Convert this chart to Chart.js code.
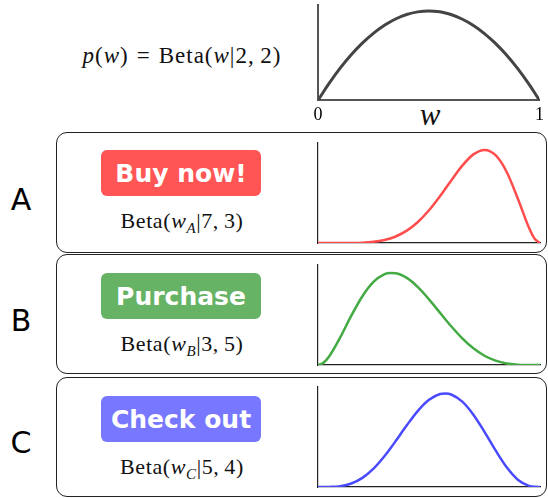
<!DOCTYPE html>
<html>
<head>
<meta charset="utf-8">
<script src="https://cdn.jsdelivr.net/npm/chart.js@4"></script>
<style>
  body { margin: 0; width: 548px; height: 498px; background: #fff; position: relative; overflow: hidden; }
  .abs { position: absolute; }
  .box { position: absolute; left: 56px; width: 491px; border: 1.5px solid #222; border-radius: 11px; box-sizing: border-box; }
  .btn { position: absolute; left: 101px; width: 160px; height: 46px; border-radius: 6px; color: #fff;
         font: bold 25px "DejaVu Sans", sans-serif; display: flex; align-items: center; justify-content: center; }
  .math { position: absolute; font-family: "Liberation Serif", serif; font-size: 22px; letter-spacing: 0.6px; color: #111; white-space: nowrap; text-align: center; }
  .math i { font-style: italic; }
  .math .eq { margin: 0 8px; }
  .letter { position: absolute; left: 0; width: 42px; text-align: center; font: 30px "DejaVu Sans", sans-serif; color: #000; }
  canvas { position: absolute; }
</style>
</head>
<body>
<div class="math" style="left:57px; top:43px; width:250px; font-size:23px; letter-spacing:1px;"><i>p</i>(<i>w</i>)<span class="eq">=</span>Beta(<i>w</i>|2,&thinsp;2)</div>
<div class="abs" style="left:410px; top:97px; width:40px; text-align:center; font:italic 31px 'Liberation Serif', serif; color:#111;">w</div>

<div class="box" style="top:132px; height:121px;"></div>
<div class="box" style="top:254px; height:120px;"></div>
<div class="box" style="top:377px; height:120px;"></div>

<div class="letter" style="top:182px;">A</div>
<div class="letter" style="top:303px;">B</div>
<div class="letter" style="top:425px;">C</div>

<div class="btn" style="top:150px; background:#ff5555;">Buy now!</div>
<div class="btn" style="top:273px; background:#66b366;">Purchase</div>
<div class="btn" style="top:396px; background:#7777ff;">Check out</div>

<div class="math" style="left:82px; top:208px; width:200px;">Beta(<i>w</i><sub style="font-size:15px;"><i>A</i></sub>|7,&thinsp;3)</div>
<div class="math" style="left:82px; top:331px; width:200px;">Beta(<i>w</i><sub style="font-size:15px;"><i>B</i></sub>|3,&thinsp;5)</div>
<div class="math" style="left:82px; top:454px; width:200px;">Beta(<i>w</i><sub style="font-size:15px;"><i>C</i></sub>|5,&thinsp;4)</div>

<canvas id="prior" style="left:308px; top:0px;" width="240" height="130"></canvas>
<canvas id="chartA" style="left:308px; top:133px;" width="240" height="118"></canvas>
<canvas id="chartB" style="left:308px; top:255px; " width="240" height="118"></canvas>
<canvas id="chartC" style="left:308px; top:377px;" width="240" height="118"></canvas>

<script>
const wValues = [0, 0.025, 0.05, 0.1, 0.15, 0.2, 0.25, 0.3, 0.325, 0.35, 0.4, 0.45, 0.5, 0.55, 0.575, 0.6, 0.65, 0.7, 0.75, 0.8, 0.85, 0.9, 0.95, 0.975, 1];

// prior Beta(2,2)
const priorValues = [0, 0.146, 0.285, 0.54, 0.765, 0.96, 1.125, 1.26, 1.316, 1.365, 1.44, 1.485, 1.5, 1.485, 1.466, 1.44, 1.365, 1.26, 1.125, 0.96, 0.765, 0.54, 0.285, 0.146, 0];
// A: Beta(7,3)
const buyNowValues = [0, 0, 0, 0.0002, 0.002, 0.010, 0.035, 0.090, 0.135, 0.196, 0.372, 0.633, 0.984, 1.413, 1.645, 1.881, 2.328, 2.668, 2.803, 2.642, 2.138, 1.339, 0.463, 0.135, 0];
// B: Beta(3,5)
const purchaseValues = [0, 0.059, 0.214, 0.689, 1.233, 1.720, 2.076, 2.269, 2.303, 2.296, 2.177, 1.946, 1.641, 1.303, 1.133, 0.968, 0.666, 0.417, 0.231, 0.108, 0.038, 0.009, 0.001, 0, 0];
// C: Beta(5,4)
const checkOutValues = [0, 0, 0.002, 0.020, 0.087, 0.229, 0.461, 0.778, 0.961, 1.154, 1.548, 1.911, 2.188, 2.335, 2.349, 2.322, 2.143, 1.815, 1.384, 0.918, 0.493, 0.184, 0.029, 0.004, 0];

const tickLabels = ["0", "1"];

function toPoints(values) {
    return values.map((v, i) => ({ x: wValues[i], y: v }));
}

function makeChart(id, values, color, yMax, withTicks) {
    const ctx = document.getElementById(id).getContext("2d");
    const axisColor = withTicks ? "#555" : "#222";
    return new Chart(ctx, {
        type: "line",
        data: {
            datasets: [{
                data: toPoints(values),
                borderColor: color,
                borderWidth: withTicks ? 3 : 2.5,
                pointRadius: 0,
                cubicInterpolationMode: "monotone",
                fill: false
            }]
        },
        options: {
            responsive: false,
            animation: false,
            events: [],
            layout: { padding: withTicks ? { left: 10, right: 8, top: 5, bottom: 0 } : { left: 10, right: 8, top: 10, bottom: 8 } },
            plugins: { legend: { display: false }, tooltip: { enabled: false } },
            scales: {
                x: {
                    type: "linear", min: 0, max: 1,
                    grid: { display: false, drawTicks: false },
                    border: { display: true, color: axisColor, width: withTicks ? 2 : 1.2 },
                    afterBuildTicks: s => { s.ticks = [{ value: 0 }, { value: 1 }]; },
                    ticks: {
                        display: withTicks,
                        maxRotation: 0,
                        padding: 4,
                        color: "#000",
                        font: { family: "Liberation Serif", size: 18 },
                        callback: (v) => v === 0 ? tickLabels[0] : tickLabels[1]
                    }
                },
                y: {
                    min: 0, max: yMax,
                    grid: { display: false, drawTicks: false },
                    border: { display: true, color: axisColor, width: withTicks ? 2 : 1.2 },
                    ticks: { display: false }
                }
            }
        }
    });
}

makeChart("prior", priorValues, "#444", 1.6, true);
makeChart("chartA", buyNowValues, "#ff4d4d", 3.01, false);
makeChart("chartB", purchaseValues, "#44aa44", 2.5, false);
makeChart("chartC", checkOutValues, "#4a4aff", 2.51, false);
</script>
</body>
</html>
